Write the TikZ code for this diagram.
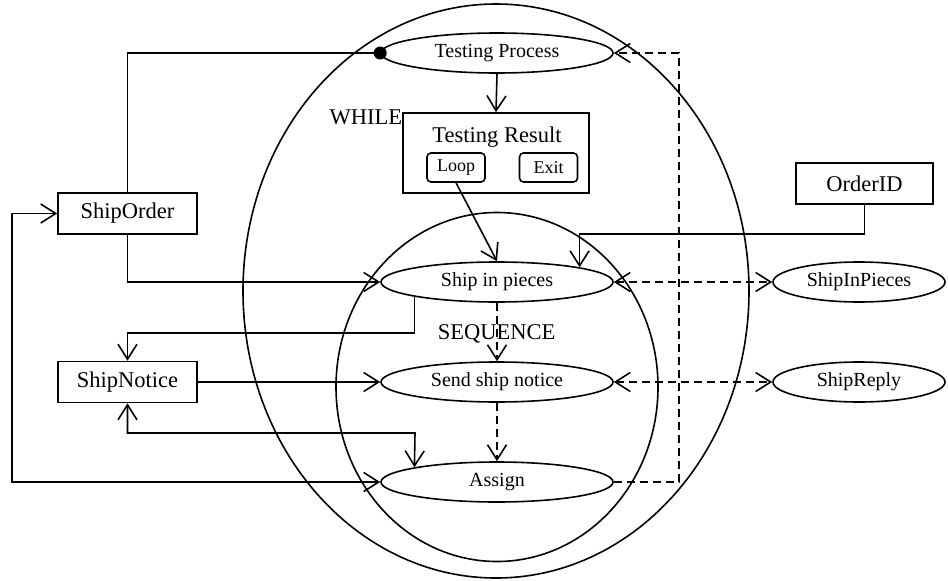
\documentclass[tikz,border=0pt]{standalone}
\usepackage{fontspec}
\setmainfont{Liberation Serif}
\usetikzlibrary{arrows.meta,shapes.geometric}

\tikzset{
  actnode/.style={draw, ellipse, inner sep=0pt, minimum width=232pt, minimum height=40pt, font=\fontsize{20}{24}\selectfont},
  varnode/.style={draw, ellipse, inner sep=0pt, minimum width=172pt, minimum height=40pt, font=\fontsize{20}{24}\selectfont},
  msgbox/.style={draw, rectangle, inner sep=0pt, minimum width=139pt, minimum height=41pt, font=\fontsize{22.5}{27}\selectfont},
  optbox/.style={draw, rectangle, rounded corners=4pt, inner sep=0pt, minimum width=58pt, minimum height=29pt, font=\fontsize{18}{22}\selectfont},
  bigtext/.style={inner sep=0pt, font=\fontsize{22.5}{27}\selectfont},
  dashline/.style={dash pattern=on 8pt off 5pt}
}

\begin{document}
\begin{tikzpicture}[x=1pt, y=-1pt, line width=1.6pt, >={Straight Barb[length=15pt, width=19pt]}]
          \useasboundingbox (0,0) rectangle (948,581);

          % WHILE and SEQUENCE regions
          \node[draw, ellipse, inner sep=0pt, minimum width=506pt, minimum height=574pt] (whileloop) at (496,291) {};
          \node[draw, ellipse, inner sep=0pt, minimum width=322pt, minimum height=349pt] (seqblock) at (497,387) {};

          \node[actnode] (tp) at (497,53) {Testing Process};
          \node[draw, rectangle, inner sep=0pt, minimum width=186pt, minimum height=80pt] (tr) at (496,153) {};
          \node[bigtext, anchor=base] (trtitle) at (497,142) {Testing Result};
          \node[optbox] (loop) at (456,167.5) {Loop};
          \node[optbox] (exit) at (548.5,167.5) {Exit};
          \node[bigtext, anchor=base east] (whilelbl) at (403,124) {WHILE};
          \node[bigtext, anchor=base west] (seqlbl) at (437,339) {SEQUENCE};

          \node[actnode] (sip) at (497,282) {Ship in pieces};
          \node[actnode] (ssn) at (497,382) {Send ship notice};
          \node[actnode] (asg) at (497,482) {Assign};

          \node[msgbox] (so) at (127.5,213.5) {ShipOrder};
          \node[msgbox] (sn) at (127.5,382) {ShipNotice};
          \node[msgbox, minimum width=137pt] (oid) at (864.5,183.5) {OrderID};
          \node[varnode] (sipv) at (859,282) {ShipInPieces};
          \node[varnode] (srp) at (859,382) {ShipReply};

          \coordinate (snbend) at (415,433);

          \draw[->] (tp.south) -- (tr.north);
          \draw[->] (loop.south) -- (sip.north);
          \draw (so.north) |- (tp.west);
          \fill (tp.west) circle [radius=6.5];
          \draw[->] (so.south) |- (sip.west);
          \draw[->] (sip.south west) -- ++(0,36) -| (sn.north);
          \draw[->] (sn.east) -- (ssn.west);
          \draw[<->] (sn.south) |- (snbend) -- (asg.north west);
          \draw[<->] (so.west) -- ++(-45,0) |- (asg.west);
          \draw[->] (oid.south) -- ++(0,29) -| (sip.north east);

          \foreach \a/\b in {sip/sipv, ssn/srp}{
            \draw[dashline, <->] (\a.east) -- (\b.west);
          }
          \draw[dashline, ->] (sip.south) -- (ssn.north);
          \draw[dashline, ->] (ssn.south) -- (asg.north);
          \draw[dashline, ->] (asg.east) -- ++(65,0) |- (tp.east);
        \end{tikzpicture}
\end{document}
